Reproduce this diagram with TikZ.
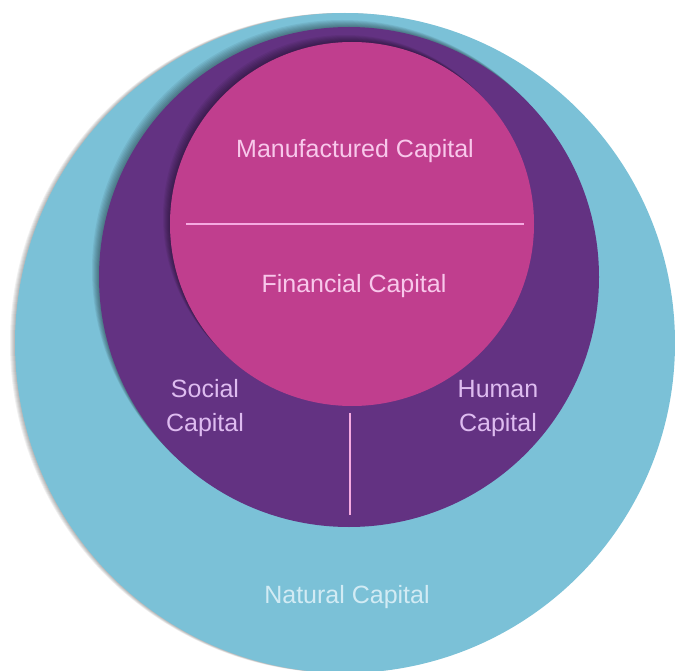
\documentclass[tikz,border=0pt]{standalone}
\usepackage{fontspec}
\setmainfont{Liberation Sans}

\definecolor{natural}{RGB}{123,193,215}
\definecolor{societal}{RGB}{99,50,130}
\definecolor{economic}{RGB}{192,62,142}
\definecolor{naturaltext}{RGB}{210,235,244}
\definecolor{societaltext}{RGB}{222,188,240}
\definecolor{economictext}{RGB}{248,200,235}
\definecolor{divider}{RGB}{245,170,225}

\tikzset{
  capital/.style={font=\fontsize{25}{34}\selectfont, align=center, inner sep=0pt},
  ring shadow/.style={fill=black, opacity=0.06}
}

\begin{document}
\begin{tikzpicture}[x=1pt, y=-1pt]

\useasboundingbox (0,0) rectangle (675,671);
\fill[white] (0,0) rectangle (675,671);

\foreach \s in {1,...,5} {
  \fill[ring shadow] (345-\s,343) circle[radius=330pt];
}
\fill[natural] (345,343) circle[radius=330pt];
\foreach \s in {1,...,7} {
  \fill[ring shadow] (349-\s,277-\s) circle[radius=250pt];
}
\fill[societal] (349,277) circle[radius=250pt];
\foreach \s in {1,...,7} {
  \fill[ring shadow] (352-\s,224-\s) circle[radius=182pt];
}
\fill[economic] (352,224) circle[radius=182pt];

\coordinate (split_left) at (186,224);
\coordinate (split_right) at (524,224);
\coordinate (split_top) at (350,413);
\coordinate (split_bottom) at (350,515);
\draw[divider, line width=1.5pt] (split_left) -- (split_right);
\draw[divider, line width=1.5pt] (split_top) -- (split_bottom);

\node[capital, anchor=base, text=economictext] (manufactured_text) at (355,158) {Manufactured Capital};
\node[capital, anchor=base, text=economictext] (financial_text) at (354,292) {Financial Capital};
\node[capital, text=societaltext] (social_text) at (205,408) {Social\\Capital};
\node[capital, text=societaltext] (human_text) at (498,408) {Human\\Capital};
\node[capital, anchor=base, text=naturaltext] (natural_text) at (347,603) {Natural Capital};

\end{tikzpicture}
\end{document}
